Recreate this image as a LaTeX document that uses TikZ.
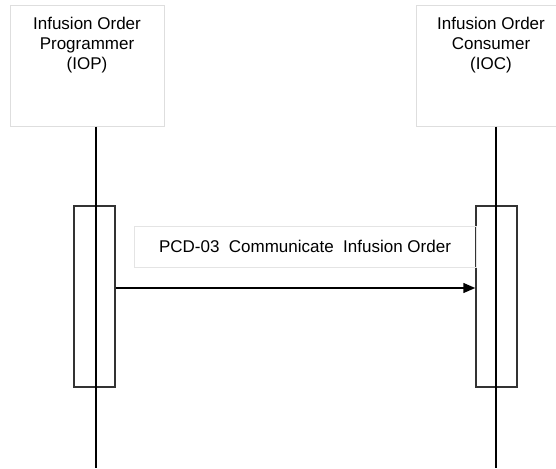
\documentclass[tikz,border=0pt]{standalone}
\usepackage{fontspec}
\setmainfont{Liberation Sans}
\usetikzlibrary{arrows.meta}
\usetikzlibrary{positioning}

\tikzset{
  actorbox/.style={draw={rgb, 255:red, 222; green, 222; blue, 222}, line width=1, minimum width=154, minimum height=120, inner sep=0},
  actortext/.style={align=center, inner sep=0, font=\fontsize{17}{20}\selectfont},
  activation/.style={draw={rgb, 255:red, 51; green, 51; blue, 51}, line width=1.5, minimum width=41, minimum height=181, inner sep=0},
  lifeline/.style={draw={rgb, 255:red, 0; green, 0; blue, 0}, line width=1.5},
  msgbox/.style={draw={rgb, 255:red, 228; green, 228; blue, 228}, line width=1, minimum width=342, minimum height=41, inner sep=0, font=\fontsize{17}{20}\selectfont},
  msgarrow/.style={line width=1.5, -{Triangle[length=12,width=10]}}
}

\begin{document}
\begin{tikzpicture}[x=1pt,y=1pt,yscale=-1,xscale=1]
\path[use as bounding box] (0,0) rectangle (556,468);
\clip (0,0) rectangle (556,468);

%Shape: Actor IOP
\node[actorbox] (iop) at (87,66) {};
\node[actortext, anchor=north] (ioptext) at (87,16.5) {Infusion Order\\Programmer\\(IOP)};
%Shape: Actor IOC
\node[actorbox] (ioc) at (493,66) {};
\node[actortext, anchor=north] (ioctext) at (491,16.5) {Infusion Order\\Consumer\\(IOC)};

%Shape: Activation boxes
\node[activation] (iopact) at (94.5,296.5) {};
\node[activation] (iocact) at (496.5,296.5) {};

%Straight Lines: lifelines
\coordinate (iopend) at (96,468);
\coordinate (iocend) at (496,468);
\draw[lifeline] (iop.south -| iopend) -- (iopend);
\draw[lifeline] (ioc.south -| iocend) -- (iocend);

%Shape: Message label
\node[msgbox] (msg) at (305,246.5) {PCD-03\ \ Communicate\ \ Infusion Order};

%Straight Lines: message
\coordinate (msgy) at (0,288);
\draw[msgarrow] (iopact.east |- msgy) -- (iocact.west |- msgy);

\end{tikzpicture}
\end{document}
